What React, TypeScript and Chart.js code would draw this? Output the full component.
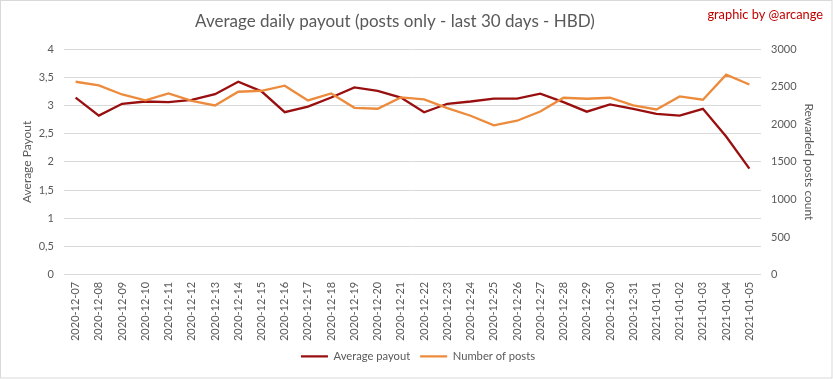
import React, { useEffect, useRef } from "react";
import { Chart, registerables } from "chart.js";

Chart.register(...registerables);

const categories = [
  "2020-12-07", "2020-12-08", "2020-12-09", "2020-12-10", "2020-12-11", "2020-12-12",
  "2020-12-13", "2020-12-14", "2020-12-15", "2020-12-16", "2020-12-17", "2020-12-18",
  "2020-12-19", "2020-12-20", "2020-12-21", "2020-12-22", "2020-12-23", "2020-12-24",
  "2020-12-25", "2020-12-26", "2020-12-27", "2020-12-28", "2020-12-29", "2020-12-30",
  "2020-12-31", "2021-01-01", "2021-01-02", "2021-01-03", "2021-01-04", "2021-01-05",
];

const averagePayout = [
  3.14, 2.82, 3.03, 3.07, 3.06, 3.10, 3.20, 3.42, 3.25, 2.88,
  2.98, 3.14, 3.32, 3.26, 3.14, 2.88, 3.03, 3.07, 3.12, 3.12,
  3.21, 3.06, 2.89, 3.02, 2.94, 2.85, 2.82, 2.94, 2.45, 1.88,
];

const numberOfPosts = [
  2565, 2516, 2396, 2317, 2410, 2312, 2250, 2432, 2445, 2512,
  2317, 2410, 2219, 2206, 2356, 2330, 2215, 2113, 1985, 2047,
  2170, 2352, 2339, 2352, 2250, 2197, 2370, 2326, 2658, 2529,
];

const titleText = "Average daily payout (posts only - last 30 days - HBD)";
const creditText = "graphic by @arcange";
const leftAxisTitle = "Average Payout";
const rightAxisTitle = "Rewarded posts count";
const seriesNames = ["Average payout", "Number of posts"];

const FONT = "Lato";
const GREY = "#595959";

const decorPlugin = {
  id: "decor",
  afterDraw(chart: any) {
    const ctx = chart.ctx;
    ctx.save();
    ctx.strokeStyle = "#d9d9d9";
    ctx.lineWidth = 1;
    ctx.strokeRect(0.5, 0.5, chart.width - 1.5, chart.height - 1.5);
    ctx.textBaseline = "middle";
    ctx.textAlign = "center";
    ctx.fillStyle = GREY;
    ctx.font = `17px ${FONT}`;
    ctx.fillText(titleText, 395, 22);
    ctx.fillStyle = "#c00000";
    ctx.font = `12.8px ${FONT}`;
    ctx.textAlign = "right";
    ctx.fillText(creditText, 823, 15);
    ctx.restore();
  },
};

export default function App() {
  const ref = useRef<HTMLCanvasElement>(null);
  useEffect(() => {
    const chart = new Chart(ref.current!, {
      type: "line",
      data: {
        labels: categories,
        datasets: [
          {
            label: seriesNames[0],
            data: averagePayout,
            borderColor: "#990f0f",
            backgroundColor: "#990f0f",
            borderWidth: 2.3,
            pointRadius: 0,
            tension: 0,
            yAxisID: "y",
            order: 1,
          },
          {
            label: seriesNames[1],
            data: numberOfPosts,
            borderColor: "#ed8b3d",
            backgroundColor: "#ed8b3d",
            borderWidth: 2.3,
            pointRadius: 0,
            tension: 0,
            yAxisID: "y1",
            order: 0,
          },
        ],
      },
      plugins: [decorPlugin],
      options: {
        responsive: false,
        animation: false,
        layout: { padding: { left: 20, right: 17, top: 49, bottom: 7 } },
        plugins: {
          title: { display: false },
          legend: {
            position: "bottom",
            labels: {
              usePointStyle: true,
              pointStyle: "line",
              pointStyleWidth: 27,
              boxHeight: 11,
              color: GREY,
              font: { family: FONT, size: 11.2 },
              padding: 10,
              sort: (a: any, b: any) => a.datasetIndex - b.datasetIndex,
            },
          },
          tooltip: { enabled: false },
        },
        scales: {
          x: {
            offset: true,
            grid: { display: false, drawTicks: false },
            border: { display: false },
            ticks: {
              color: GREY,
              font: { family: FONT, size: 11 },
              minRotation: 90,
              maxRotation: 90,
              autoSkip: false,
              padding: 7,
            },
            afterFit: (s: any) => { s.height = 66; },
          },
          y: {
            position: "left",
            min: 0,
            max: 4,
            grid: { color: "#d9d9d9", drawTicks: false },
            border: { display: false },
            ticks: {
              stepSize: 0.5,
              color: GREY,
              font: { family: FONT, size: 11 },
              padding: 10,
              callback: (v: any) => String(v).replace(".", ","),
            },
            title: {
              display: true,
              text: leftAxisTitle,
              color: GREY,
              font: { family: FONT, size: 12 },
              padding: 0,
            },
            afterFit: (s: any) => { s.width = 44; },
          },
          y1: {
            position: "right",
            min: 0,
            max: 3000,
            grid: { display: false, drawTicks: false },
            border: { display: false },
            ticks: {
              stepSize: 500,
              color: GREY,
              font: { family: FONT, size: 11 },
              padding: 10,
              callback: (v: any) => String(v),
            },
            title: {
              display: true,
              text: rightAxisTitle,
              color: GREY,
              font: { family: FONT, size: 12 },
              padding: 0,
            },
            afterFit: (s: any) => { s.width = 55; },
          },
        },
      },
    });
    return () => chart.destroy();
  }, []);
  return (
    <div style={{ position: "absolute", left: 0, top: 0, width: 833, height: 379, background: "#fff" }}>
      <canvas ref={ref} width={833} height={379} />
    </div>
  );
}
